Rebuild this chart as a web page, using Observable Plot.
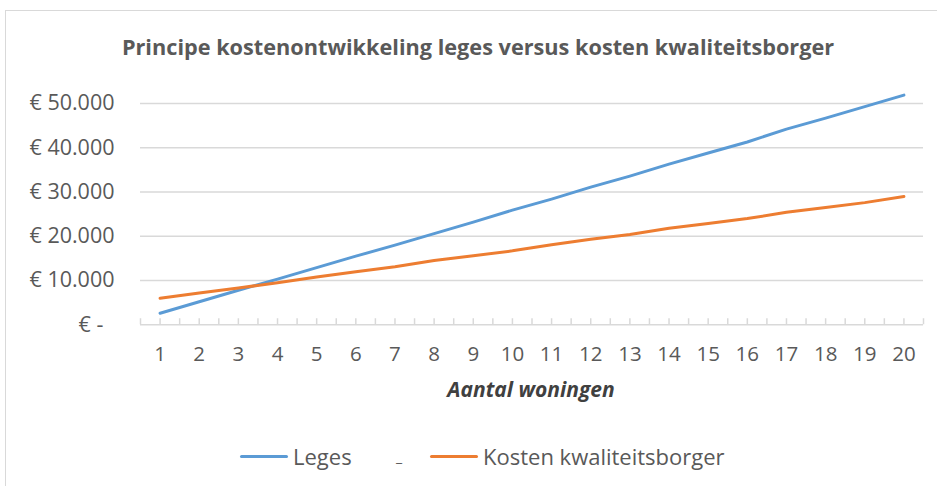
<!DOCTYPE html>
<html>
<head>
<meta charset="utf-8">
<script src="https://cdn.jsdelivr.net/npm/d3@7"></script>
<script src="https://cdn.jsdelivr.net/npm/@observablehq/plot@0.6"></script>
<style>
  html, body { margin: 0; padding: 0; background: #fff; }
  body { width: 937px; height: 486px; overflow: hidden; position: relative; font-family: "Open Sans", sans-serif; color: #595959; }
  #frame { position: absolute; left: 5px; top: 10px; width: 1000px; height: 600px; border: 1.5px solid #d9d9d9; box-sizing: border-box; }
  #title { position: absolute; left: 0; width: 956px; top: 32px; text-align: center; font-size: 21.7px; font-weight: bold; color: #595959; white-space: nowrap; }
  #chart { position: absolute; left: 0; top: 0; }
  #xtitle { position: absolute; left: 330px; width: 402px; top: 375px; text-align: center; font-size: 21px; font-weight: bold; font-style: italic; color: #404040; }
  .leg { position: absolute; top: 441px; font-size: 22px; color: #595959; white-space: nowrap; display: flex; align-items: center; }
  .leg .sw { display: inline-block; width: 48px; height: 3px; border-radius: 2px; margin-right: 5px; }
  #stray { position: absolute; left: 396px; top: 447px; font-size: 14px; color: #595959; }
</style>
</head>
<body>
<div id="frame"></div>
<div id="title"></div>
<div id="chart"></div>
<div id="xtitle"></div>
<div id="legend"></div>
<script>
// ---- data ----
const titleText = "Principe kostenontwikkeling leges versus kosten kwaliteitsborger";
const xTitle = "Aantal woningen";
const woningen = [1,2,3,4,5,6,7,8,9,10,11,12,13,14,15,16,17,18,19,20];
const leges = [2600,5200,7800,10300,12900,15500,18000,20600,23200,25900,28400,31100,33600,36300,38800,41300,44200,46700,49300,51900];
const kosten = [6000,7200,8300,9500,10800,12000,13100,14500,15600,16700,18100,19300,20400,21800,22900,24000,25400,26500,27600,29000];
const seriesNames = ["Leges", "Kosten kwaliteitsborger"];
const seriesColors = ["#5B9BD5", "#ED7D31"];
const yTicks = [0, 10000, 20000, 30000, 40000, 50000];
const xHalfTicks = d3.range(0.5, 20.51, 0.5);

document.getElementById("title").textContent = titleText;
document.getElementById("xtitle").textContent = xTitle;

const rows = [];
woningen.forEach((w, i) => {
  rows.push({w, v: leges[i], s: seriesNames[0]});
  rows.push({w, v: kosten[i], s: seriesNames[1]});
});

const fmt = v => v === 0 ? "€ -\u00a0\u00a0" : "€ " + d3.format(",")(v).replace(/,/g, ".");

const H = 420;
const chart = Plot.plot({
  width: 937,
  height: H,
  marginTop: 103,
  marginBottom: H - 324.25,
  marginLeft: 140,
  marginRight: 14,
  style: { fontFamily: "Open Sans, sans-serif", fontSize: "20px", color: "#595959", background: "transparent", overflow: "visible" },
  x: { type: "linear", domain: [0.5, 20.5] },
  y: { domain: [0, 50000] },
  color: { domain: seriesNames, range: seriesColors },
  marks: [
    Plot.gridY(yTicks.filter(d => d > 0), { stroke: "#d9d9d9", strokeOpacity: 1, strokeWidth: 1.5 }),
    Plot.ruleY([0], { stroke: "#d9d9d9", strokeWidth: 1.5 }),
    Plot.axisX({ ticks: xHalfTicks, tickSize: 6, dy: -6, tickFormat: () => "", stroke: "#d9d9d9", strokeWidth: 1.5, label: null }),
    Plot.axisX({ ticks: woningen, tickSize: 0, tickPadding: 22, tickFormat: d => String(d), label: null, fill: "#595959", fontSize: 20.5 }),
    Plot.axisY({ ticks: yTicks, tickSize: 0, tickPadding: 26, tickFormat: fmt, label: null, fill: "#595959", fontSize: 21.5 }),
    Plot.line(rows, { x: "w", y: "v", z: "s", stroke: "s", strokeWidth: 3, strokeLinecap: "round" })
  ]
});
document.getElementById("chart").appendChild(chart);

// legend
const legend = document.getElementById("legend");
const legLeft = [240, 430];
seriesNames.forEach((name, i) => {
  const item = document.createElement("div");
  item.className = "leg";
  item.style.left = legLeft[i] + "px";
  const sw = document.createElement("span");
  sw.className = "sw";
  sw.style.background = seriesColors[i];
  item.appendChild(sw);
  item.appendChild(document.createTextNode(name));
  legend.appendChild(item);
});
const stray = document.createElement("div");
stray.id = "stray";
stray.textContent = "_";
legend.appendChild(stray);
</script>
</body>
</html>
